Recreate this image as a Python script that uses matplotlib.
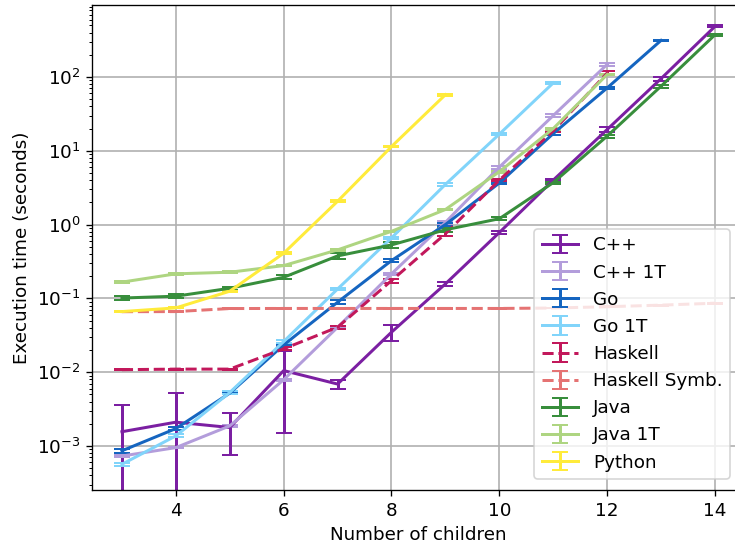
import matplotlib
matplotlib.use("Agg")
import matplotlib.pyplot as plt

plt.rcParams["font.size"] = 11

# Number of children on the x axis
x = [3, 4, 5, 6, 7, 8, 9, 10, 11, 12, 13, 14]

# Execution times (seconds)
cpp = [1.56e-3, 2.1e-3, 1.78e-3, 0.0105, 6.9e-3, 0.0348, 0.157, 0.78, 4.0, 19.4, 95, 484]
cpp_err = [2.05e-3, 3.2e-3, 1.03e-3, 0.009, 1.0e-3, 0.0085, 0.008, 0.03, 0.15, 1.5, 6, 15]

cpp1t = [7.3e-4, 9.5e-4, 1.87e-3, 7.9e-3, 0.0406, 0.215, 1.07, 6.0, 30, 148]
cpp1t_err = [2e-5, 2e-5, 5e-5, 3e-4, 1.5e-3, 0.008, 0.04, 0.25, 1.2, 8]

go = [8.6e-4, 1.72e-3, 5.2e-3, 0.0234, 0.0887, 0.325, 1.0, 3.66, 17.1, 71, 313]
go_err = [5e-5, 1e-4, 2e-4, 1e-3, 0.005, 0.015, 0.04, 0.15, 0.6, 3, 8]

go1t = [5.65e-4, 1.37e-3, 5.3e-3, 0.026, 0.134, 0.66, 3.5, 16.8, 83]
go1t_err = [3e-5, 6e-5, 2e-4, 1e-3, 0.006, 0.025, 0.12, 0.5, 2]

haskell = [0.0108, 0.011, 0.011, 0.0207, 0.0406, 0.174, 0.75, 4.0, 18.6, 113]
haskell_err = [2e-4, 2e-4, 2e-4, 1e-3, 2e-3, 0.01, 0.04, 0.15, 0.8, 6]

haskell_symb = [0.0660, 0.0662, 0.0728, 0.073, 0.073, 0.073, 0.073, 0.073, 0.074, 0.077, 0.081, 0.086]
haskell_symb_err = [1e-3] * 12

java = [0.101, 0.107, 0.137, 0.193, 0.376, 0.53, 0.85, 1.2, 3.7, 15.8, 75, 373]
java_err = [0.006, 0.007, 0.006, 0.012, 0.03, 0.05, 0.06, 0.05, 0.12, 0.8, 4, 10]

java1t = [0.166, 0.215, 0.226, 0.278, 0.454, 0.81, 1.6, 5.2, 20, 108]
java1t_err = [0.004, 0.005, 0.006, 0.006, 0.01, 0.02, 0.04, 0.15, 0.6, 3]

python = [0.0662, 0.0743, 0.125, 0.409, 2.07, 11.4, 57.5]
python_err = [1e-3, 1e-3, 2e-3, 0.01, 0.05, 0.3, 1.5]

series = [
    ("C++", cpp, cpp_err, "#7b1fa2", "-"),
    ("C++ 1T", cpp1t, cpp1t_err, "#b39ddb", "-"),
    ("Go", go, go_err, "#1565c0", "-"),
    ("Go 1T", go1t, go1t_err, "#81d4fa", "-"),
    ("Haskell", haskell, haskell_err, "#c2185b", "--"),
    ("Haskell Symb.", haskell_symb, haskell_symb_err, "#e57373", "--"),
    ("Java", java, java_err, "#388e3c", "-"),
    ("Java 1T", java1t, java1t_err, "#aed581", "-"),
    ("Python", python, python_err, "#ffeb3b", "-"),
]

fig = plt.figure(figsize=(735 / 120, 547 / 120), dpi=120)
ax = fig.add_axes([92.3 / 735, 1 - 490 / 547, (744.6 - 92.3) / 735, (490 - 4.5) / 547])
ax.set_yscale("log")

for name, vals, errs, color, ls in series:
    n = len(vals)
    ax.errorbar(x[:n], vals, yerr=errs, label=name, color=color, linestyle=ls,
                linewidth=1.8, elinewidth=1.8, capsize=5, capthick=1.2)

ax.set_xlim(2.45, 14.55)
ax.set_ylim(2.53e-4, 960)
ax.set_xticks([4, 6, 8, 10, 12, 14])
ax.grid(True, color="#b0b0b0", linewidth=1.0)
ax.set_axisbelow(True)

ax.set_xlabel("Number of children")
ax.set_ylabel("Execution time (seconds)")

ax.legend(loc="lower right", bbox_to_anchor=(730 / 735, 1 - 479 / 547),
          bbox_transform=fig.transFigure, borderaxespad=0)

fig.savefig("out.png", dpi=120)
